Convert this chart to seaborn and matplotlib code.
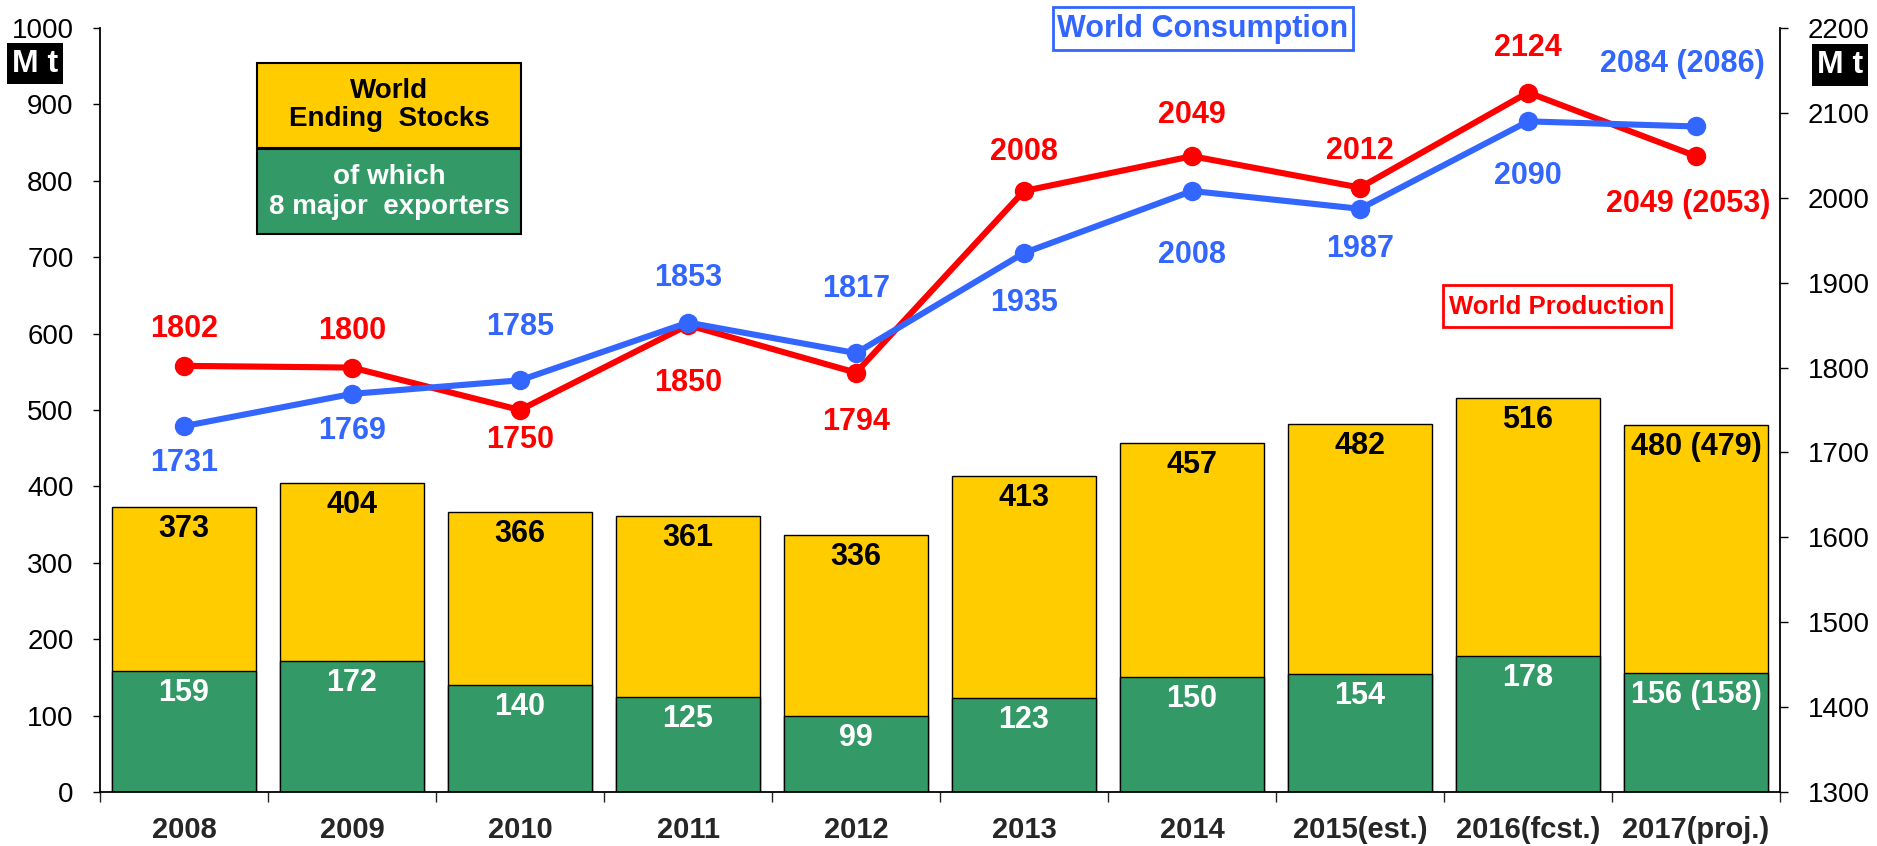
import numpy as np
import pandas as pd
import matplotlib
matplotlib.use('Agg')
import seaborn as sns
import matplotlib.pyplot as plt
from matplotlib.patches import Rectangle

years = ['2008', '2009', '2010', '2011', '2012', '2013', '2014',
         '2015(est.)', '2016(fcst.)', '2017(proj.)']
stocks = [373, 404, 366, 361, 336, 413, 457, 482, 516, 480]
exporters = [159, 172, 140, 125, 99, 123, 150, 154, 178, 156]
production = [1802, 1800, 1750, 1850, 1794, 2008, 2049, 2012, 2124, 2049]
consumption = [1731, 1769, 1785, 1853, 1817, 1935, 2008, 1987, 2090, 2084]

stock_labels = [str(v) for v in stocks[:-1]] + ['480 (479)']
exp_labels = [str(v) for v in exporters[:-1]] + ['156 (158)']
prod_labels = [str(v) for v in production[:-1]] + ['2049 (2053)']
cons_labels = [str(v) for v in consumption[:-1]] + ['2084 (2086)']

# label offsets in pixels (positive = up)
prod_dy = [37, 37, -30, -58, -49, 39, 41, 37, 45, -48]
cons_dy = [-37, -37, 53, 45, 64, -50, -64, -40, -55, 62]

YELLOW = '#FFCC00'
GREEN = '#339966'
RED = '#FF0000'
BLUE = '#3366FF'

sns.set_style('ticks')
plt.rcParams['font.family'] = ['Liberation Sans', 'DejaVu Sans']

W, H = 1877, 846
fig = plt.figure(figsize=(W / 100, H / 100), dpi=100)
ax = fig.add_axes([100 / W, 1 - 792 / H, 1680 / W, 764 / H])

df = pd.DataFrame({'year': years, 'stocks': stocks, 'exporters': exporters})
sns.barplot(data=df, x='year', y='stocks', color=YELLOW, saturation=1,
            width=0.863, edgecolor='black', linewidth=1, errorbar=None, ax=ax)
sns.barplot(data=df, x='year', y='exporters', color=GREEN, saturation=1,
            width=0.863, edgecolor='black', linewidth=1, errorbar=None, ax=ax)

px = 0.72  # px -> pt
for i in range(len(years)):
    ax.annotate(stock_labels[i], (i, stocks[i]), xytext=(0, -22 * px),
                textcoords='offset points', ha='center', va='center',
                fontsize=22, fontweight='bold', color='black')
    ax.annotate(exp_labels[i], (i, exporters[i]), xytext=(0, -22 * px),
                textcoords='offset points', ha='center', va='center',
                fontsize=22, fontweight='bold', color='white')

ax2 = ax.twinx()
x = np.arange(len(years))
sns.lineplot(x=x, y=production, color=RED, linewidth=4.4, marker='o',
             markersize=14, markeredgewidth=0, ax=ax2)
sns.lineplot(x=x, y=consumption, color=BLUE, linewidth=4.4, marker='o',
             markersize=14, markeredgewidth=0, ax=ax2)

for i in range(len(years)):
    dx = -8 if i == len(years) - 1 else 0
    ax2.annotate(prod_labels[i], (i, production[i]), xytext=(dx * px, prod_dy[i] * px),
                 textcoords='offset points', ha='center', va='center',
                 fontsize=22, fontweight='bold', color=RED)
    dx = -14 if i == len(years) - 1 else 0
    ax2.annotate(cons_labels[i], (i, consumption[i]), xytext=(dx * px, cons_dy[i] * px),
                 textcoords='offset points', ha='center', va='center',
                 fontsize=22, fontweight='bold', color=BLUE)

ax.set_ylim(0, 1000)
ax2.set_ylim(1300, 2200)
ax.set_xlim(-0.5, len(years) - 0.5)
ax.set_xlabel('')
ax.set_ylabel('')
ax2.set_ylabel('')

ax.set_yticks(range(0, 1001, 100))
ax2.set_yticks(range(1300, 2201, 100))
ax.tick_params(axis='y', length=5, width=1, pad=14, labelsize=20, colors='black')
ax2.tick_params(axis='y', length=6, width=1, pad=14, labelsize=20, colors='black')
ax.set_xticks(x)
ax.set_xticklabels(years, fontsize=21, fontweight='bold')
ax.set_xticks(np.arange(-0.5, len(years), 1), minor=True)
ax.tick_params(axis='x', which='major', length=0, pad=17)
ax.tick_params(axis='x', which='minor', length=7, width=1, direction='out')

for a in (ax, ax2):
    a.spines['top'].set_visible(False)
    for s in a.spines.values():
        s.set_linewidth(1.3)
        s.set_color('black')
ax.spines['right'].set_visible(False)
ax2.spines['left'].set_visible(False)
ax2.spines['bottom'].set_visible(False)


def fig_box(x0, y0, x1, y1, fc, ec, lw):
    fig.patches.append(Rectangle((x0 / W, 1 - y1 / H), (x1 - x0) / W, (y1 - y0) / H,
                                 transform=fig.transFigure, facecolor=fc,
                                 edgecolor=ec, linewidth=lw, zorder=5))


def fig_label(cx, cy, text, color, size):
    fig.text(cx / W, 1 - cy / H, text, ha='center', va='center', color=color,
             fontsize=size, fontweight='bold', zorder=6, linespacing=1.15)


# "Mt" unit tags
fig_box(7, 43, 63, 84, 'black', 'none', 0)
fig_label(35, 64, 'M t', 'white', 23)
fig_box(1812, 44, 1868, 86, 'black', 'none', 0)
fig_label(1840, 65, 'M t', 'white', 23)

# stock legend
fig_box(257, 63, 521, 148, YELLOW, 'black', 1.5)
fig_label(389, 105, 'World\nEnding  Stocks', 'black', 20)
fig_box(257, 149, 521, 234, GREEN, 'black', 1.5)
fig_label(389, 192, 'of which\n8 major  exporters', 'white', 20)

# series tags
fig_box(1053, 7, 1353, 50, 'white', BLUE, 2)
fig_label(1203, 29, 'World Consumption', BLUE, 22)
fig_box(1443, 285, 1671, 327, 'white', RED, 2)
fig_label(1557, 307, 'World Production', RED, 18.5)

plt.savefig('out.png', dpi=100)
